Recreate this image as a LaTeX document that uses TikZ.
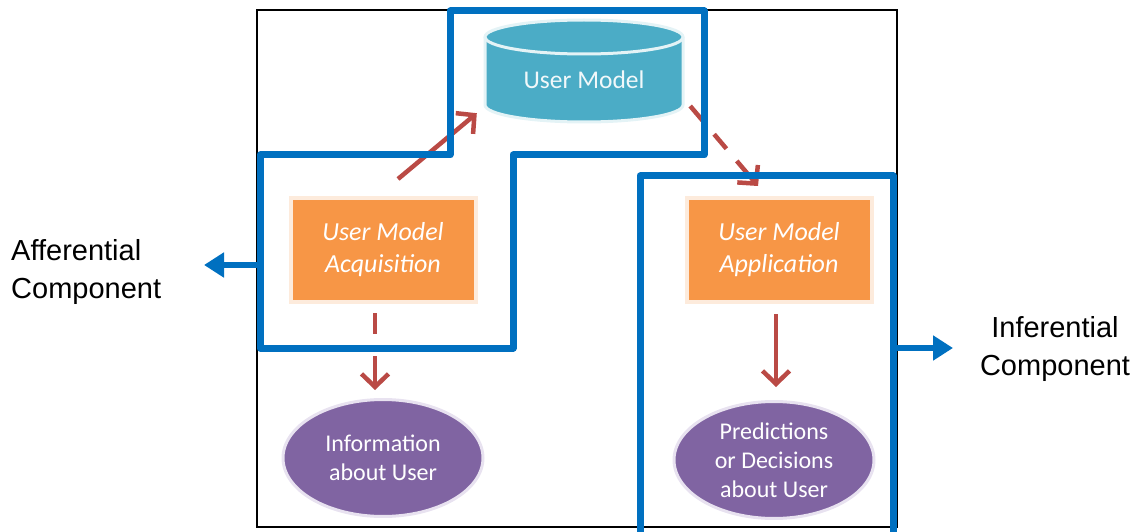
\documentclass[tikz,border=0pt]{standalone}
\usepackage{fontspec}
\setmainfont{Liberation Sans}
\newfontfamily\calfont{Carlito}
\usetikzlibrary{arrows.meta,shapes.geometric,shadows}
\definecolor{umteal}{HTML}{4BACC6}
\definecolor{umorange}{HTML}{F79646}
\definecolor{umcream}{HTML}{FDEBDC}
\definecolor{umpurple}{HTML}{8064A2}
\definecolor{umlav}{HTML}{E8E2F0}
\definecolor{umred}{HTML}{BA4A45}
\definecolor{umblue}{HTML}{0070C0}
\tikzset{
  procbox/.style={rectangle, fill=umorange, draw=umcream, line width=4pt,
    minimum width=185pt, minimum height=104pt, inner sep=0pt, align=center,
    text=white, font=\calfont\itshape\fontsize{26}{32}\selectfont,
    drop shadow={opacity=0.18, shadow xshift=2pt, shadow yshift=-2pt}},
  outellipse/.style={ellipse, fill=umpurple, draw=umlav, line width=3pt,
    minimum width=200pt, minimum height=117pt, inner sep=0pt, align=center,
    text=white, font=\calfont\fontsize{24}{29}\selectfont},
  flowarrow/.style={draw=umred, line width=4.5pt,
    -{Straight Barb[length=13pt,width=27pt,line width=4.5pt]}},
  compline/.style={draw=umblue, line width=7pt, line join=round},
  comparrow/.style={draw=umblue, line width=6pt, -{Triangle[length=20pt,width=24pt]}},
  complabel/.style={font=\fontsize{29}{38}\selectfont, text=black, inner sep=0pt}
}
\begin{document}
\begin{tikzpicture}[x=1pt,y=-1pt]
\useasboundingbox (0,0) rectangle (1136,532);
% frame
\draw[black, line width=2pt] (257,10) rectangle (897,527);
% cylinder (User Model)
\fill[umteal] (485,37) -- (485,105) arc[start angle=180,end angle=360,x radius=99,y radius=-17]
  -- (683,37) arc[start angle=0,end angle=180,x radius=99,y radius=-17] -- cycle;
\draw[white!85!umteal, line width=3pt] (485,37) -- (485,105) arc[start angle=180,end angle=360,x radius=99,y radius=-17]
  -- (683,37);
\draw[white!85!umteal, line width=3pt] (584,37) ellipse[x radius=99,y radius=17];
\node[minimum width=198pt, minimum height=102pt, inner sep=0pt] (um) at (584,71) {};
\node[text=white!92!umteal, font=\calfont\fontsize{25.5}{30}\selectfont, inner sep=0pt] (umtext) at (584,80) {User Model};
% process boxes
\node[procbox] (acq) at (383,250) {User Model\\Acquisition};
\node[procbox] (app) at (779,250) {User Model\\Application};
% outcome ellipses
\node[outellipse] (info) at (383,458) {Information\\about User};
\node[outellipse] (pred) at (774,460) {Predictions\\or Decisions\\about User};
% flow arrows
\draw[flowarrow] ([xshift=15pt,yshift=17pt]acq.north) -- ([xshift=-8pt,yshift=9pt]um.south west);
\draw[flowarrow, dash pattern=on 19pt off 18pt on 19pt off 16pt on 40pt]
  ([xshift=7pt,yshift=-35pt]um.east) -- ([xshift=-21pt,yshift=10pt]app.north);
\draw[flowarrow, dash pattern=on 21pt off 22pt on 60pt]
  ([xshift=-8pt,yshift=-9pt]acq.south) -- ([xshift=-8pt,yshift=8pt]info.north);
\draw[flowarrow] ([xshift=-3pt,yshift=-10pt]app.south) -- ([xshift=2pt,yshift=13pt]pred.north);
% component outlines
\draw[compline] (450,155) -- (450,11) -- (704,11) -- (704,155) -- (513,155) -- (513,348)
  -- (260,348) -- (260,155) -- cycle;
\draw[compline] (640,540) -- (640,176) -- (893,176) -- (893,540);
% labels
\node[complabel, anchor=west, align=left] (afflabel) at (11,272) {Afferential\\Component};
\node[complabel, align=center] (inflabel) at (1055,349) {Inferential\\Component};
\coordinate (affstart) at (260,265);
\coordinate (afftip) at (204,265);
\coordinate (infstart) at (893,348);
\coordinate (inftip) at (953,348);
\draw[comparrow] (affstart) -- (afftip);
\draw[comparrow] (infstart) -- (inftip);
\end{tikzpicture}
\end{document}
